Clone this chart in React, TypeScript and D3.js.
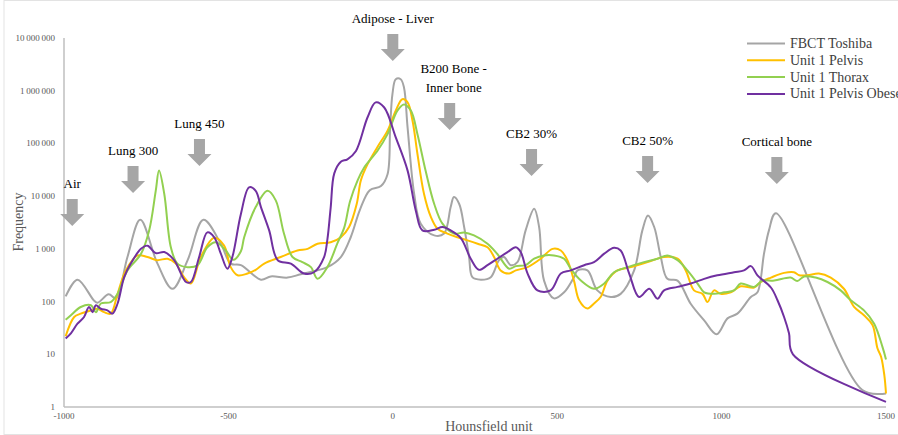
import * as d3 from 'd3';

// Hounsfield unit / frequency pairs
const fbctToshiba: [number, number][] = [
  [-995, 125], [-959, 260], [-909, 105], [-898, 95], [-864, 137], [-842, 115], [-807, 700], [-768, 3550],
  [-716, 530], [-670, 175], [-624, 610], [-576, 3550], [-523, 1250], [-493, 525], [-462, 490], [-401, 260],
  [-371, 300], [-320, 285], [-280, 330], [-199, 450], [-158, 700], [-128, 1660], [-100, 5500], [-70, 13000],
  [-36, 15500], [-16, 26000], [-8, 200000], [-1, 870000], [9, 1650000], [24, 1650000], [34, 1150000],
  [45, 200000], [65, 11000], [85, 3000], [126, 1800], [156, 1950], [176, 6200], [186, 9600], [202, 7100],
  [217, 2600], [232, 700], [242, 290], [268, 260], [298, 290], [323, 610], [338, 700], [359, 490], [379, 560],
  [404, 2240], [430, 5750], [445, 2600], [460, 250], [490, 115], [521, 150], [551, 290], [562, 390], [592, 390],
  [622, 163], [663, 122], [693, 140], [734, 390], [759, 2240], [776, 4300], [795, 2600], [815, 700], [835, 270],
  [866, 250], [906, 91], [947, 44], [985, 24], [1018, 48], [1048, 59], [1089, 122], [1109, 150], [1129, 810],
  [1144, 2240], [1165, 4750], [1428, 2.1], [1500, 1.8],
];

const unit1Pelvis: [number, number][] = [
  [-995, 22], [-969, 51], [-949, 59], [-918, 68], [-898, 73], [-878, 63], [-858, 59], [-837, 141], [-812, 390],
  [-776, 750], [-746, 700], [-716, 610], [-685, 650], [-660, 525], [-635, 290], [-614, 220], [-584, 700],
  [-543, 1620], [-513, 1150], [-493, 450], [-472, 315], [-442, 340], [-417, 400], [-391, 525], [-341, 700],
  [-290, 930], [-259, 1000], [-229, 1250], [-189, 1330], [-158, 1660], [-133, 2600], [-110, 7000], [-97, 20000],
  [-77, 40000], [-47, 85000], [-16, 175000], [9, 420000], [29, 690000], [45, 600000], [60, 270000], [75, 63000],
  [95, 11000], [116, 4000], [136, 2400], [166, 1950], [197, 1660], [227, 1450], [258, 1250], [288, 1070],
  [308, 700], [328, 390], [354, 340], [374, 390], [410, 450], [450, 650], [486, 1000], [511, 930], [531, 610],
  [551, 250], [567, 105], [592, 74], [612, 92], [632, 122], [653, 250], [683, 390], [724, 450], [775, 560],
  [825, 700], [866, 650], [891, 390], [916, 163], [942, 140], [957, 98], [977, 163], [997, 140], [1028, 150],
  [1058, 195], [1099, 185], [1119, 235], [1150, 285], [1190, 350], [1220, 360], [1236, 315], [1261, 315],
  [1296, 340], [1332, 285], [1372, 175], [1403, 79], [1433, 55], [1459, 36], [1474, 13], [1485, 9], [1495, 4],
  [1500, 1.8],
];

const unit1Thorax: [number, number][] = [
  [-995, 45], [-979, 55], [-949, 79], [-918, 85], [-903, 63], [-888, 92], [-858, 98], [-837, 141], [-807, 390],
  [-766, 800], [-741, 2240], [-721, 12600], [-711, 30500], [-695, 11000], [-675, 1070], [-655, 525], [-624, 450],
  [-594, 490], [-564, 1070], [-538, 1330], [-508, 930], [-485, 620], [-462, 900], [-452, 1660], [-417, 6200],
  [-381, 12600], [-356, 8300], [-331, 1950], [-305, 700], [-275, 560], [-249, 450], [-229, 270], [-199, 450],
  [-168, 1300], [-148, 2500], [-130, 8000], [-107, 20000], [-87, 35000], [-47, 72000], [-16, 150000],
  [14, 420000], [34, 550000], [55, 420000], [75, 150000], [100, 30000], [126, 7100], [151, 3000], [186, 1950],
  [217, 2050], [247, 1800], [288, 1250], [318, 800], [354, 420], [374, 470], [404, 490], [430, 650], [460, 750],
  [490, 750], [521, 650], [541, 420], [572, 250], [612, 175], [643, 220], [673, 360], [714, 450], [764, 560],
  [805, 650], [835, 750], [866, 610], [896, 390], [927, 220], [947, 150], [977, 140], [1008, 150], [1038, 163],
  [1058, 220], [1099, 190], [1124, 250], [1160, 250], [1210, 285], [1230, 245], [1251, 300], [1286, 285],
  [1322, 235], [1362, 163], [1393, 106], [1433, 68], [1464, 38], [1489, 14], [1500, 8],
];

const unit1PelvisObese: [number, number][] = [
  [-995, 20], [-979, 25], [-959, 38], [-939, 51], [-924, 79], [-913, 63], [-903, 85], [-888, 73], [-868, 68],
  [-853, 59], [-837, 92], [-817, 290], [-797, 525], [-766, 1000], [-746, 1150], [-721, 830], [-695, 870],
  [-665, 610], [-629, 235], [-614, 235], [-589, 700], [-564, 2050], [-543, 1660], [-523, 810], [-503, 420],
  [-488, 700], [-462, 4600], [-437, 14700], [-417, 12600], [-401, 6200], [-376, 2240], [-350, 610], [-310, 525],
  [-270, 340], [-240, 360], [-209, 700], [-199, 1500], [-189, 6000], [-178, 27000], [-158, 45000],
  [-138, 50000], [-112, 72000], [-77, 310000], [-52, 600000], [-26, 480000], [9, 130000], [45, 30500],
  [70, 5300], [90, 2240], [126, 2300], [151, 2600], [176, 2240], [207, 1600], [237, 650], [262, 400], [288, 490],
  [318, 650], [349, 870], [374, 1070], [389, 870], [410, 340], [440, 163], [480, 163], [511, 340], [541, 390],
  [582, 490], [612, 560], [643, 810], [673, 1050], [693, 930], [719, 340], [749, 122], [780, 175], [805, 113],
  [825, 163], [866, 190], [906, 220], [947, 270], [987, 315], [1038, 360], [1068, 390], [1089, 470], [1109, 315],
  [1150, 185], [1170, 106], [1190, 51], [1205, 25], [1217, 10], [1500, 1.25],
];

const seriesNames = ['FBCT Toshiba', 'Unit 1 Pelvis', 'Unit 1 Thorax', 'Unit 1 Pelvis Obese'];
const xTicks = [-1000, -500, 0, 500, 1000, 1500];
const yTicks = [1, 10, 100, 1000, 10000, 100000, 1000000, 10000000];

// annotation labels and the HU they point at
const annotationLabels = [['Air'], ['Lung 300'], ['Lung 450'], ['Adipose - Liver'], ['B200 Bone -', 'Inner bone'], ['CB2 30%'], ['CB2 50%'], ['Cortical bone']];
const annotationHU = [-975, -790, -588, 0, 173, 422, 775, 1168];

const colors = ['#A5A5A5', '#FFC000', '#92D050', '#7030A0'];
const annotationTextY = [188, 155, 128, 23, 73, 138, 145, 146];

const W = 898;
const H = 435;
const margin = { left: 64, right: 12, top: 38, bottom: 28 };
const serif = "'Liberation Serif', 'Times New Roman', serif";

const fmt = d3.formatLocale({ decimal: '.', thousands: '\u2009', grouping: [3], currency: ['', ''] }).format(',d');

export default function App() {
  const x = d3.scaleLinear().domain([-1000, 1500]).range([margin.left, W - margin.right]);
  const y = d3.scaleLog().domain([1, 10000000]).range([H - margin.bottom, margin.top]);

  const line = d3.line<[number, number]>()
    .x(d => x(d[0]))
    .y(d => y(d[1]))
    .curve(d3.curveCatmullRom.alpha(0.5));

  const series = [fbctToshiba, unit1Pelvis, unit1Thorax, unit1PelvisObese];
  const x0 = margin.left;
  const yBottom = H - margin.bottom;

  const arrow = (cx: number, top: number) =>
    `M${cx - 5.5},${top} L${cx + 5.5},${top} L${cx + 5.5},${top + 15} L${cx + 12},${top + 15} L${cx},${top + 27} L${cx - 12},${top + 15} L${cx - 5.5},${top + 15} Z`;

  return (
    <svg width={W} height={H} style={{ position: 'absolute', left: 0, top: 0, background: '#fff', fontFamily: serif }}>
      <rect x={4} y={0.5} width={W} height={H - 1} fill="none" stroke="#E3E3E3" />

      {/* axes */}
      <line x1={x0} x2={x0} y1={margin.top} y2={yBottom} stroke="#BFBFBF" strokeWidth={1.5} />
      <line x1={x0} x2={x(1500)} y1={yBottom} y2={yBottom} stroke="#BFBFBF" strokeWidth={1.5} />

      {yTicks.map(t => (
        <text key={t} x={x0 - 9} y={y(t) + 3} textAnchor="end" fontSize={9} fill="#595959" style={{ fontFamily: serif }}>{fmt(t)}</text>
      ))}
      {xTicks.map(t => (
        <text key={t} x={x(t)} y={yBottom + 12} textAnchor="middle" fontSize={9} fill="#595959" style={{ fontFamily: serif }}>{t}</text>
      ))}

      <text x={489} y={431} textAnchor="middle" fontSize={14} fill="#595959" style={{ fontFamily: serif }}>Hounsfield unit</text>
      <text transform={`translate(23,222) rotate(-90)`} textAnchor="middle" fontSize={14} fill="#595959" style={{ fontFamily: serif }}>Frequency</text>

      {/* series */}
      {series.map((s, i) => (
        <path key={i} d={line(s) || ''} fill="none" stroke={colors[i]} strokeWidth={2} strokeLinejoin="round" />
      ))}

      {/* annotations */}
      {annotationLabels.map((lines, i) => {
        const cx = x(annotationHU[i]);
        const ty = annotationTextY[i];
        const top = ty + (lines.length - 1) * 19 + 11;
        return (
          <g key={i}>
            {lines.map((l, j) => (
              <text key={j} x={cx + (lines.length > 1 ? 4 : 0)} y={ty + j * 19} textAnchor="middle" fontSize={13} fill="#000" style={{ fontFamily: serif }}>{l}</text>
            ))}
            <path d={arrow(cx, top)} fill="#A6A6A6" />
          </g>
        );
      })}

      {/* legend */}
      {seriesNames.map((n, i) => (
        <g key={n} transform={`translate(747,${43.5 + i * 16.8})`}>
          <line x1={0} x2={38} y1={0} y2={0} stroke={colors[i]} strokeWidth={2} />
          <text x={43} y={4.5} fontSize={14} fill="#404040" style={{ fontFamily: serif }}>{n}</text>
        </g>
      ))}
    </svg>
  );
}
